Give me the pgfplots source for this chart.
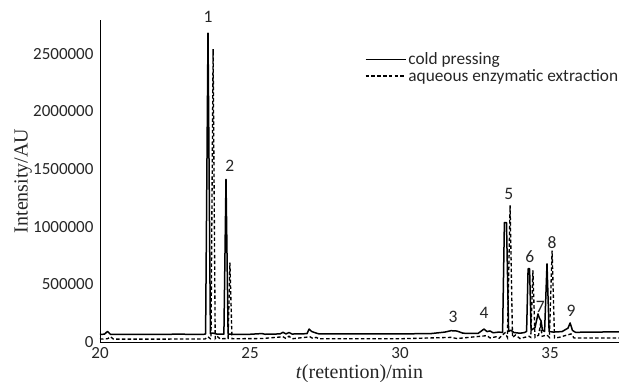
\documentclass[border=0pt]{standalone}
\usepackage{fontspec}
\setmainfont{Liberation Serif}
\newfontfamily\calfont{Carlito}
\usepackage{pgfplots}
\pgfplotsset{compat=1.18}
\begin{document}
\begin{tikzpicture}
\begin{axis}[
  scale only axis,
  width=519pt, height=322pt,
  xmin=20, xmax=37.3,
  ymin=0, ymax=2791000,
  axis x line=bottom, axis y line=left,
  axis line style={-, line width=0.9pt, black},
  major tick length=0pt,
  xtick={20,25,30,35},
  xticklabels={20,25,30,35},
  ytick={0,500000,1000000,1500000,2000000,2500000},
  yticklabels={0,500000,1000000,1500000,2000000,2500000},
  scaled y ticks=false,
  tick label style={font=\calfont\fontsize{17}{20}\selectfont, text=black!85},
  xticklabel style={yshift=-2pt},
  yticklabel style={xshift=-3pt},
  xlabel={\textit{t}(retention)/min},
  ylabel={Intensity/AU},
  label style={font=\fontsize{20}{22}\selectfont, text=black!85},
  xlabel style={at={(axis description cs:0.5,0)}, anchor=center, yshift=-32pt},
  ylabel style={at={(axis description cs:-0.148,0.5)}, anchor=center},
  clip=false,
  legend style={at={(axis description cs:0.51,0.905)}, anchor=north west, draw=none, fill=none,
    font=\calfont\fontsize{17.3}{19}\selectfont, text=black!85, row sep=-1pt, inner sep=0pt},
  legend cell align=left,
  legend image code/.code={\draw[#1] (0pt,0pt) -- (40pt,0pt);},
]
\addplot[black, line width=1.5pt, line join=round] coordinates {
(20.0,65000) (20.15,68000) (20.25,92000) (20.35,66000) (21,65000) (22,66000) (22.7,68000) (23.0,66000) (23.45,66000)
(23.52,70000) (23.6,2678000) (23.68,72000) (23.75,78000) (23.9,68000)
(24.13,68000) (24.2,1409000) (24.27,68000)
(24.5,66000) (25,67000) (25.4,73000) (25.5,67000) (26,70000) (26.1,84000) (26.2,70000) (26.3,82000) (26.4,69000)
(26.9,72000) (26.97,112000) (27.05,92000) (27.15,82000) (27.3,70000) (28,70000) (30,71000) (31,72000)
(31.5,86000) (31.7,98000) (31.9,95000) (32.1,76000) (32.6,74000) (32.8,112000) (32.9,90000) (33.0,96000) (33.1,80000) (33.3,86000)
(33.42,82000) (33.48,1035000) (33.55,1035000) (33.62,92000) (33.7,102000) (33.8,82000) (34.0,76000) (34.15,82000)
(34.22,92000) (34.27,635000) (34.32,635000) (34.37,102000)
(34.5,125000) (34.6,243000) (34.65,205000) (34.7,185000) (34.75,100000)
(34.82,92000) (34.9,678000) (34.97,92000)
(35.1,86000) (35.4,90000) (35.6,120000) (35.67,165000) (35.75,100000) (35.85,84000) (36.5,86000) (37.3,88000)
};
\addlegendentry{cold pressing}
\addplot[black, line width=1.35pt, dash pattern=on 3.5pt off 2.3pt] coordinates {
(20.0,25000) (20.25,28000) (20.35,45000) (20.45,25000) (22,25000) (23,26000) (23.5,26000) (23.6,45000) (23.68,28000)
(23.7,30000) (23.77,2539000) (23.84,30000) (23.9,50000) (24.0,28000)
(24.27,30000) (24.33,687000) (24.4,28000)
(25.4,30000) (26.1,45000) (26.2,30000) (26.3,50000) (26.4,28000) (27.0,45000) (27.1,30000) (27.2,40000) (27.3,28000)
(30,28000) (31.7,40000) (31.9,30000) (32.9,55000) (33.0,35000) (33.2,45000) (33.3,32000)
(33.5,80000) (33.58,40000) (33.67,1183000) (33.75,40000) (33.85,60000) (34.0,30000)
(34.3,50000) (34.36,40000) (34.43,620000) (34.5,40000)
(34.62,60000) (34.68,150000) (34.74,50000) (34.9,60000) (34.98,40000) (35.07,791000) (35.15,35000)
(35.3,40000) (35.7,70000) (35.8,35000) (37.3,35000)
};
\addlegendentry{aqueous enzymatic extraction}
\begin{scope}[every node/.style={font=\calfont\fontsize{17.5}{20}\selectfont, text=black!85}]
\node at (axis cs:23.6,2817000) {1};
\node at (axis cs:24.33,1530000) {2};
\node at (axis cs:31.77,217000) {3};
\node at (axis cs:32.8,250000) {4};
\node at (axis cs:33.63,1280000) {5};
\node at (axis cs:34.33,739000) {6};
\node at (axis cs:34.68,305000) {7};
\node at (axis cs:35.07,865000) {8};
\node at (axis cs:35.7,272000) {9};
\end{scope}
\end{axis}
\pgfresetboundingbox
\path[use as bounding box] (-100pt,-40pt) rectangle (519pt,342pt);
\end{tikzpicture}
\end{document}
